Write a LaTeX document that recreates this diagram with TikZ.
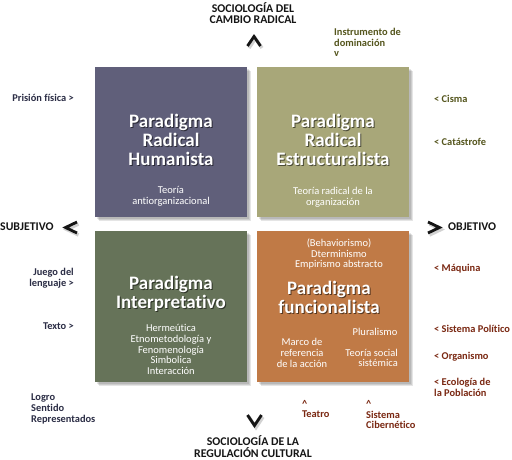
\documentclass[tikz,border=0pt]{standalone}
\usepackage{fontspec}
\setmainfont{Carlito}[Ligatures=NoCommon]
\definecolor{cTL}{HTML}{605F7A}
\definecolor{cTR}{HTML}{A8A779}
\definecolor{cBL}{HTML}{667359}
\definecolor{cBR}{HTML}{C07A46}
\definecolor{lblL}{HTML}{2B2D45}
\definecolor{lblTR}{HTML}{55561E}
\definecolor{lblBR}{HTML}{7A2812}
\definecolor{dark}{HTML}{151515}
\tikzset{
  quad/.style={fill=#1, draw=none},
  shade1/.style={fill=black, opacity=0.10, draw=none},
  title/.style={text=white, font=\fontsize{19}{19}\selectfont\bfseries, align=center, inner sep=0pt},
  titleshadow/.style={text=black, opacity=0.55, font=\fontsize{19}{19}\selectfont\bfseries, align=center, inner sep=0pt},
  inner/.style={text=white, font=\fontsize{10.5}{10.7}\selectfont, align=center, inner sep=0pt},
  lbl/.style={font=\fontsize{10.4}{10.8}\selectfont\bfseries, inner sep=0pt},
  axis/.style={text=dark, font=\fontsize{11.8}{11.5}\selectfont\bfseries, align=center, inner sep=0pt},
  chev/.style={draw=dark, line width=2.8pt, miter limit=10},
  chevsh/.style={draw=gray, opacity=0.35, line width=3.4pt},
}
\newcommand{\quadbox}[5]{%
  \fill[shade1] (#1+4,#2+4) rectangle (#3+4,#4+4);
  \fill[shade1] (#1+3,#2+3) rectangle (#3+3,#4+3);
  \fill[shade1] (#1+2,#2+2) rectangle (#3+2,#4+2);
  \fill[quad=#5] (#1,#2) rectangle (#3,#4);
}
\begin{document}
\begin{tikzpicture}[x=1pt,y=-1pt]
\useasboundingbox (0,0) rectangle (512,459);
\fill[white] (0,0) rectangle (512,459);

% boxes
\quadbox{95}{67}{247}{217}{cTL}
\quadbox{257}{67}{409}{217}{cTR}
\quadbox{95}{231}{247}{382}{cBL}
\quadbox{257}{231}{409}{382}{cBR}

% Top-left
\node[titleshadow] (tlts) at (172,141) {Paradigma\\Radical\\Humanista};
\node[title] (tlt) at (171,140) {Paradigma\\Radical\\Humanista};
\node[inner] (tli) at (171,196.5) {Teoría\\antiorganizacional};

% Top-right
\node[titleshadow] (trts) at (334,141) {Paradigma\\Radical\\Estructuralista};
\node[title] (trt) at (333,140) {Paradigma\\Radical\\Estructuralista};
\node[inner] (tri) at (333,197) {Teoría radical de la\\organización};

% Bottom-left
\node[titleshadow] (blts) at (172,294.5) {Paradigma\\Interpretativo};
\node[title] (blt) at (171,293.5) {Paradigma\\Interpretativo};
\node[inner] (bli) at (171,349.5) {Hermeútica\\Etnometodología y\\Fenomenología\\Simbolica\\Interacción};

% Bottom-right
\node[inner] (bri1) at (339,254) {(Behaviorismo)\\Dterminismo\\Empirismo abstracto};
\node[titleshadow] (brts) at (330,298) {Paradigma\\funcionalista};
\node[title] (brt) at (329,297) {Paradigma\\funcionalista};
\node[inner] (bri2) at (375,332) {Pluralismo};
\node[inner] (bri3) at (302,353) {Marco de\\referencia\\de la acción};
\node[inner, align=right, anchor=east] (bri4) at (398,358) {Teoría social\\sistémica};

% axis labels
\node[axis] (top) at (253,13) {SOCIOLOGÍA DEL\\CAMBIO RADICAL};
\node[axis] (bot) at (253,446.5) {SOCIOLOGÍA DE LA\\REGULACIÓN CULTURAL};
\node[axis, anchor=west] (subj) at (0,227) {SUBJETIVO};
\node[axis, anchor=west] (obj) at (448,227) {OBJETIVO};

% chevrons
\coordinate (upA) at (247.5,46); \coordinate (upB) at (254,36.5); \coordinate (upC) at (260.5,46);
\draw[chevsh] ([shift={(1.5,2)}]upA) -- ([shift={(1.5,2)}]upB) -- ([shift={(1.5,2)}]upC);
\draw[chev] (upA) -- (upB) -- (upC);
\coordinate (dnA) at (247.5,415); \coordinate (dnB) at (254.5,425.5); \coordinate (dnC) at (261.5,415);
\draw[chevsh] ([shift={(1.5,2)}]dnA) -- ([shift={(1.5,2)}]dnB) -- ([shift={(1.5,2)}]dnC);
\draw[chev] (dnA) -- (dnB) -- (dnC);
\coordinate (ltA) at (77,222); \coordinate (ltB) at (65.5,227.5); \coordinate (ltC) at (77,233);
\draw[chevsh] ([shift={(1.5,2)}]ltA) -- ([shift={(1.5,2)}]ltB) -- ([shift={(1.5,2)}]ltC);
\draw[chev] (ltA) -- (ltB) -- (ltC);
\coordinate (rtA) at (428,222); \coordinate (rtB) at (439.5,227.5); \coordinate (rtC) at (428,233);
\draw[chevsh] ([shift={(1.5,2)}]rtA) -- ([shift={(1.5,2)}]rtB) -- ([shift={(1.5,2)}]rtC);
\draw[chev] (rtA) -- (rtB) -- (rtC);

% left labels
\node[lbl, text=lblL, anchor=east] (prision) at (74,98) {Prisión física >};
\node[lbl, text=lblL, anchor=east, align=right] (juego) at (74,278.5) {Juego del\\lenguaje >};
\node[lbl, text=lblL, anchor=east] (texto) at (74,326) {Texto >};
\node[lbl, text=lblL, anchor=west, align=left] (logro) at (31,409) {Logro\\Sentido\\Representados};

% top right labels
\node[lbl, text=lblTR, anchor=west, align=left] (instr) at (334,42.5) {Instrumento de\\dominación\\v};
\node[lbl, text=lblTR, anchor=west] (cisma) at (434,99) {< Cisma};
\node[lbl, text=lblTR, anchor=west] (catas) at (434,142) {< Catástrofe};

% bottom right labels
\node[lbl, text=lblBR, anchor=west] (maq) at (434,269) {< Máquina};
\node[lbl, text=lblBR, anchor=west] (sispol) at (434,329) {< Sistema Político};
\node[lbl, text=lblBR, anchor=west] (organ) at (434,357) {< Organismo};
\node[lbl, text=lblBR, anchor=west, align=left] (ecol) at (434,387.5) {< Ecología de\\la Población};
\node[lbl, text=lblBR, anchor=west, align=left] (teatro) at (302,409) {\^{}\\Teatro};
\node[lbl, text=lblBR, anchor=west, align=left] (ciber) at (366,414.5) {\^{}\\Sistema\\Cibernético};
\end{tikzpicture}
\end{document}
